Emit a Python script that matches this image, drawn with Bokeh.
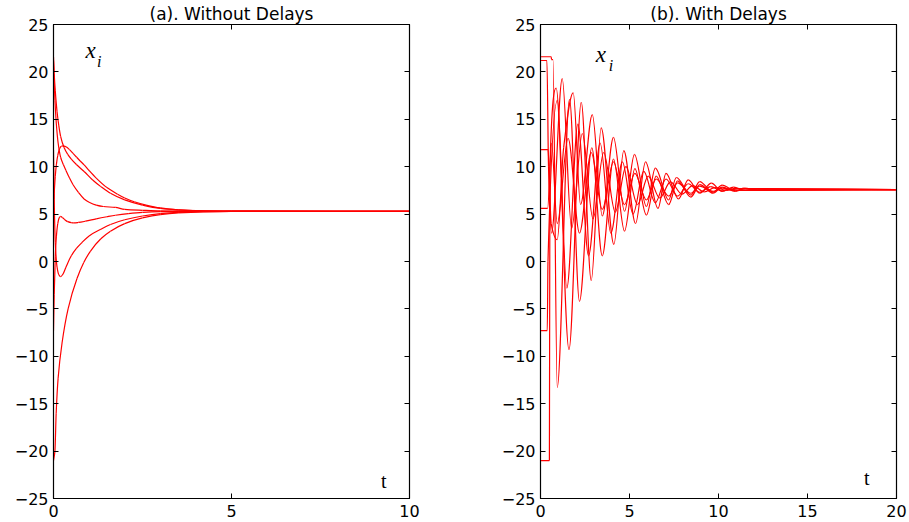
from bokeh.plotting import figure
from bokeh.models import LinearAxis, FixedTicker, Label, Range1d
from bokeh.layouts import row
from bokeh.embed import file_html
from bokeh.resources import INLINE

# ---------------- data ----------------
y_ticks = [-25, -20, -15, -10, -5, 0, 5, 10, 15, 20, 25]
y_tick_labels = ["−25", "−20", "−15", "−10", "−5", "0", "5", "10", "15", "20", "25"]
xa_ticks = [0, 5, 10]
xb_ticks = [0, 5, 10, 15, 20]
title_a = "(a). Without Delays"
title_b = "(b). With Delays"

# (a) without delays: six agents (t, x_i)
a1_t = [0, 0.02, 0.05, 0.1, 0.15, 0.2, 0.3, 0.4, 0.5, 0.65, 0.86, 1.1, 1.33, 1.6, 2.0, 2.5, 3.0, 3.5, 4.0, 5.0, 10.0]
a1_x = [21.6, 19.8, 18.0, 15.8, 14.3, 13.2, 12.0, 11.3, 10.8, 10.2, 9.5, 8.6, 7.9, 7.2, 6.5, 5.95, 5.6, 5.45, 5.36, 5.31, 5.3]
a2_t = [0, 0.02, 0.04, 0.08, 0.13, 0.2, 0.28, 0.35, 0.45, 0.55, 0.7, 0.86, 1.0, 1.2, 1.4, 1.74, 2.0, 2.5, 3.0, 4.0, 10.0]
a2_x = [21.2, 19.0, 17.0, 14.5, 12.5, 11.0, 10.2, 9.6, 8.8, 8.1, 7.3, 6.6, 6.25, 5.95, 5.8, 5.7, 5.5, 5.4, 5.33, 5.3, 5.3]
a3_t = [0, 0.02, 0.05, 0.08, 0.12, 0.17, 0.22, 0.27, 0.35, 0.45, 0.55, 0.65, 0.75, 0.86, 1.0, 1.2, 1.5, 1.8, 2.0, 2.27, 2.6, 3.0, 3.5, 4.0, 5.0, 10.0]
a3_x = [5.6, 7.2, 9.0, 10.2, 11.2, 11.9, 12.15, 12.2, 12.1, 11.8, 11.4, 11.0, 10.6, 10.2, 9.6, 8.8, 7.8, 7.1, 6.7, 6.3, 5.95, 5.65, 5.45, 5.36, 5.31, 5.3]
a4_t = [0, 0.02, 0.05, 0.08, 0.12, 0.16, 0.2, 0.25, 0.32, 0.4, 0.5, 0.57, 0.7, 0.9, 1.2, 1.5, 1.74, 2.1, 2.5, 3.0, 3.5, 10.0]
a4_x = [-7.3, -3.5, 0.5, 2.6, 4.0, 4.6, 4.75, 4.65, 4.4, 4.2, 4.1, 4.08, 4.12, 4.25, 4.5, 4.72, 4.88, 5.05, 5.18, 5.26, 5.29, 5.3]
a5_t = [0, 0.02, 0.05, 0.1, 0.15, 0.2, 0.27, 0.35, 0.5, 0.65, 0.8, 1.0, 1.33, 1.6, 2.0, 2.5, 3.0, 3.5, 4.2, 5.0, 10.0]
a5_x = [11.8, 6.5, 2.0, -0.6, -1.4, -1.6, -1.3, -0.6, 0.6, 1.4, 2.0, 2.7, 3.4, 3.9, 4.4, 4.8, 5.05, 5.18, 5.26, 5.29, 5.3]
a6_t = [0, 0.04, 0.075, 0.13, 0.24, 0.41, 0.66, 0.85, 1.04, 1.33, 1.6, 2.0, 2.5, 3.0, 3.5, 4.2, 5.0, 10.0]
a6_x = [-21.0, -20.0, -16.0, -12.3, -8.6, -5.0, -1.8, -0.1, 1.1, 2.4, 3.2, 4.0, 4.6, 4.95, 5.12, 5.23, 5.28, 5.3]

# (b) with delays: six agents, initial histories then peaks / troughs
b1_t = [0, 0.6, 0.62, 0.7, 0.94, 1.63, 2.19, 2.88, 3.47, 4.1, 4.72, 5.3, 5.95, 6.5, 7.2, 7.7, 8.45, 8.95, 9.7, 10.2, 10.95, 11.5, 12.2, 20]
b1_x = [21.6, 21.6, 21.3, 21.3, -13.3, 17.1, -4.2, 12.0, 0.6, 10.8, 3.2, 9.8, 4.9, 9.0, 6.0, 8.5, 6.8, 8.1, 7.2, 7.85, 7.4, 7.7, 7.52, 7.58]
b2_t = [0, 0.42, 0.6, 0.94, 1.3, 1.84, 2.25, 2.91, 3.47, 4.1, 4.72, 5.28, 5.95, 6.45, 7.2, 7.63, 8.45, 8.94, 9.7, 10.2, 10.95, 11.45, 12.2, 20]
b2_x = [11.8, 11.8, 4.0, 2.3, 12.0, 17.8, 6.0, 15.5, 4.8, 13.1, 5.3, 11.3, 5.8, 9.84, 6.5, 8.86, 7.0, 8.43, 7.3, 8.05, 7.45, 7.75, 7.55, 7.58]
b3_t = [0, 0.4, 0.62, 0.94, 1.55, 2.19, 2.85, 3.47, 4.1, 4.72, 5.3, 5.95, 6.5, 7.2, 7.7, 8.45, 8.95, 9.7, 10.2, 10.95, 20]
b3_x = [5.6, 5.6, 12.5, 4.0, 13.0, 3.0, 11.5, 5.5, 10.5, 6.0, 9.3, 6.5, 8.7, 6.9, 8.3, 7.2, 7.95, 7.4, 7.75, 7.5, 7.58]
b4_t = [0, 0.5, 0.53, 0.88, 1.6, 2.29, 2.85, 3.41, 4.12, 4.68, 5.34, 5.9, 6.6, 7.05, 7.75, 8.3, 8.95, 9.6, 10.2, 10.85, 11.5, 12.1, 20]
b4_x = [-21.0, -21.0, 10.0, 18.3, -9.3, 16.8, -2.0, 14.1, 1.8, 11.7, 4.0, 10.5, 5.6, 9.3, 6.6, 8.6, 7.2, 8.26, 7.4, 7.85, 7.5, 7.65, 7.58]
b5_t = [0, 0.38, 0.42, 0.95, 1.48, 2.1, 2.7, 3.35, 3.95, 4.6, 5.2, 5.8, 6.45, 7.05, 7.7, 8.3, 8.95, 9.55, 10.2, 10.8, 20]
b5_x = [-7.3, -7.3, 0.0, 17.0, -2.8, 14.5, 0.6, 12.5, 3.0, 10.5, 5.0, 9.5, 6.2, 8.7, 6.9, 8.2, 7.3, 7.9, 7.45, 7.7, 7.58]
b6_t = [0, 0.36, 0.45, 0.62, 1.22, 1.75, 2.35, 2.95, 3.55, 4.2, 4.8, 5.45, 6.05, 6.7, 7.3, 7.95, 8.55, 9.2, 9.8, 10.45, 11.1, 20]
b6_x = [21.2, 21.2, 10.0, 3.0, 19.3, 3.5, 13.5, 4.5, 11.5, 5.2, 10.0, 6.0, 9.0, 6.7, 8.4, 7.1, 8.0, 7.35, 7.8, 7.5, 7.65, 7.58]

series_a = [(a1_t, a1_x), (a2_t, a2_x), (a3_t, a3_x), (a4_t, a4_x), (a5_t, a5_x), (a6_t, a6_x)]
series_b = [(b1_t, b1_x), (b2_t, b2_x), (b3_t, b3_x), (b4_t, b4_x), (b5_t, b5_x), (b6_t, b6_x)]

TICK_FONT = "'DejaVu Sans'"
SERIF = "'Liberation Serif'"
LINE_COLOR = "#ff0000"


def smooth_line(p, t, v, **kw):
    """Draw a smooth (monotone cubic) curve through the read points with Bokeh bezier segments."""
    n = len(t)
    h = [t[i + 1] - t[i] for i in range(n - 1)]
    d = [(v[i + 1] - v[i]) / h[i] for i in range(n - 1)]
    m = [0.0] * n
    m[0] = d[0]
    m[-1] = d[-1]
    for k in range(1, n - 1):
        if d[k - 1] * d[k] <= 0:
            m[k] = 0.0
        else:
            w1 = 2 * h[k] + h[k - 1]
            w2 = h[k] + 2 * h[k - 1]
            m[k] = (w1 + w2) / (w1 / d[k - 1] + w2 / d[k])
    x0 = t[:-1]
    y0 = v[:-1]
    x1 = t[1:]
    y1 = v[1:]
    cx0 = [t[i] + h[i] / 3 for i in range(n - 1)]
    cy0 = [v[i] + m[i] * h[i] / 3 for i in range(n - 1)]
    cx1 = [t[i + 1] - h[i] / 3 for i in range(n - 1)]
    cy1 = [v[i + 1] - m[i + 1] * h[i] / 3 for i in range(n - 1)]
    p.bezier(x0=x0, y0=y0, x1=x1, y1=y1, cx0=cx0, cy0=cy0, cx1=cx1, cy1=cy1, **kw)


def style_axis(ax, ticks, labels=None, standoff=5):
    ax.ticker = FixedTicker(ticks=ticks)
    ax.major_tick_in = 5
    ax.major_tick_out = 0
    ax.minor_tick_line_color = None
    ax.axis_line_color = "black"
    ax.major_tick_line_color = "black"
    if labels is None:
        ax.major_label_overrides = {t: "" for t in ticks}
        ax.major_label_text_font_size = "0px"
        ax.major_label_standoff = 0
    else:
        ax.major_label_overrides = dict(zip(ticks, labels))
        ax.major_label_text_font = TICK_FONT
        ax.major_label_text_font_size = "16px"
        ax.major_label_text_color = "black"
        ax.major_label_standoff = standoff


def make_panel(title, xmax, xticks, series, left_border, right_border, xi_pos, t_pos):
    p = figure(x_range=Range1d(0, xmax), y_range=Range1d(-25, 25),
               frame_width=356, frame_height=474,
               min_border_left=left_border, min_border_right=right_border,
               min_border_top=23, min_border_bottom=25,
               output_backend="svg", toolbar_location=None)
    p.title.text = title
    p.title.align = "center"
    p.title.text_font = TICK_FONT
    p.title.text_font_size = "17px"
    p.title.text_font_style = "normal"
    p.title.text_color = "black"
    p.title.standoff = 2
    p.grid.visible = False
    p.outline_line_color = "black"
    p.outline_line_width = 1.2
    p.background_fill_color = "white"
    p.border_fill_color = "white"
    style_axis(p.xaxis[0], xticks, [str(v) for v in xticks], standoff=6)
    style_axis(p.yaxis[0], y_ticks, y_tick_labels, standoff=5)
    top = LinearAxis()
    style_axis(top, xticks)
    p.add_layout(top, "above")
    right = LinearAxis()
    style_axis(right, y_ticks)
    p.add_layout(right, "right")

    for t, x in series:
        smooth_line(p, t, x, line_color=LINE_COLOR, line_width=1.2)

    (xx, xy), (ix, iy) = xi_pos
    p.add_layout(Label(x=xx, y=xy, text="x", text_font=SERIF, text_baseline="alphabetic",
                       text_font_style="italic", text_font_size="23px", text_color="black"))
    p.add_layout(Label(x=ix, y=iy, text="i", text_font=SERIF, text_baseline="alphabetic",
                       text_font_style="italic", text_font_size="16px", text_color="black"))
    p.add_layout(Label(x=t_pos[0], y=t_pos[1], text="t", text_font=SERIF, text_baseline="alphabetic",
                       text_font_size="20px", text_color="black"))
    return p


pa = make_panel(title_a, 10, xa_ticks, series_a, 53, 40,
                ((0.9, 22.3), (1.22, 21.1)), (9.2, -23.2))
pb = make_panel(title_b, 20, xb_ticks, series_b, 91, 13,
                ((3.1, 21.85), (3.84, 20.7)), (18.18, -22.8))

layout = row(pa, pb)
open("out.html", "w").write(file_html(layout, INLINE))
